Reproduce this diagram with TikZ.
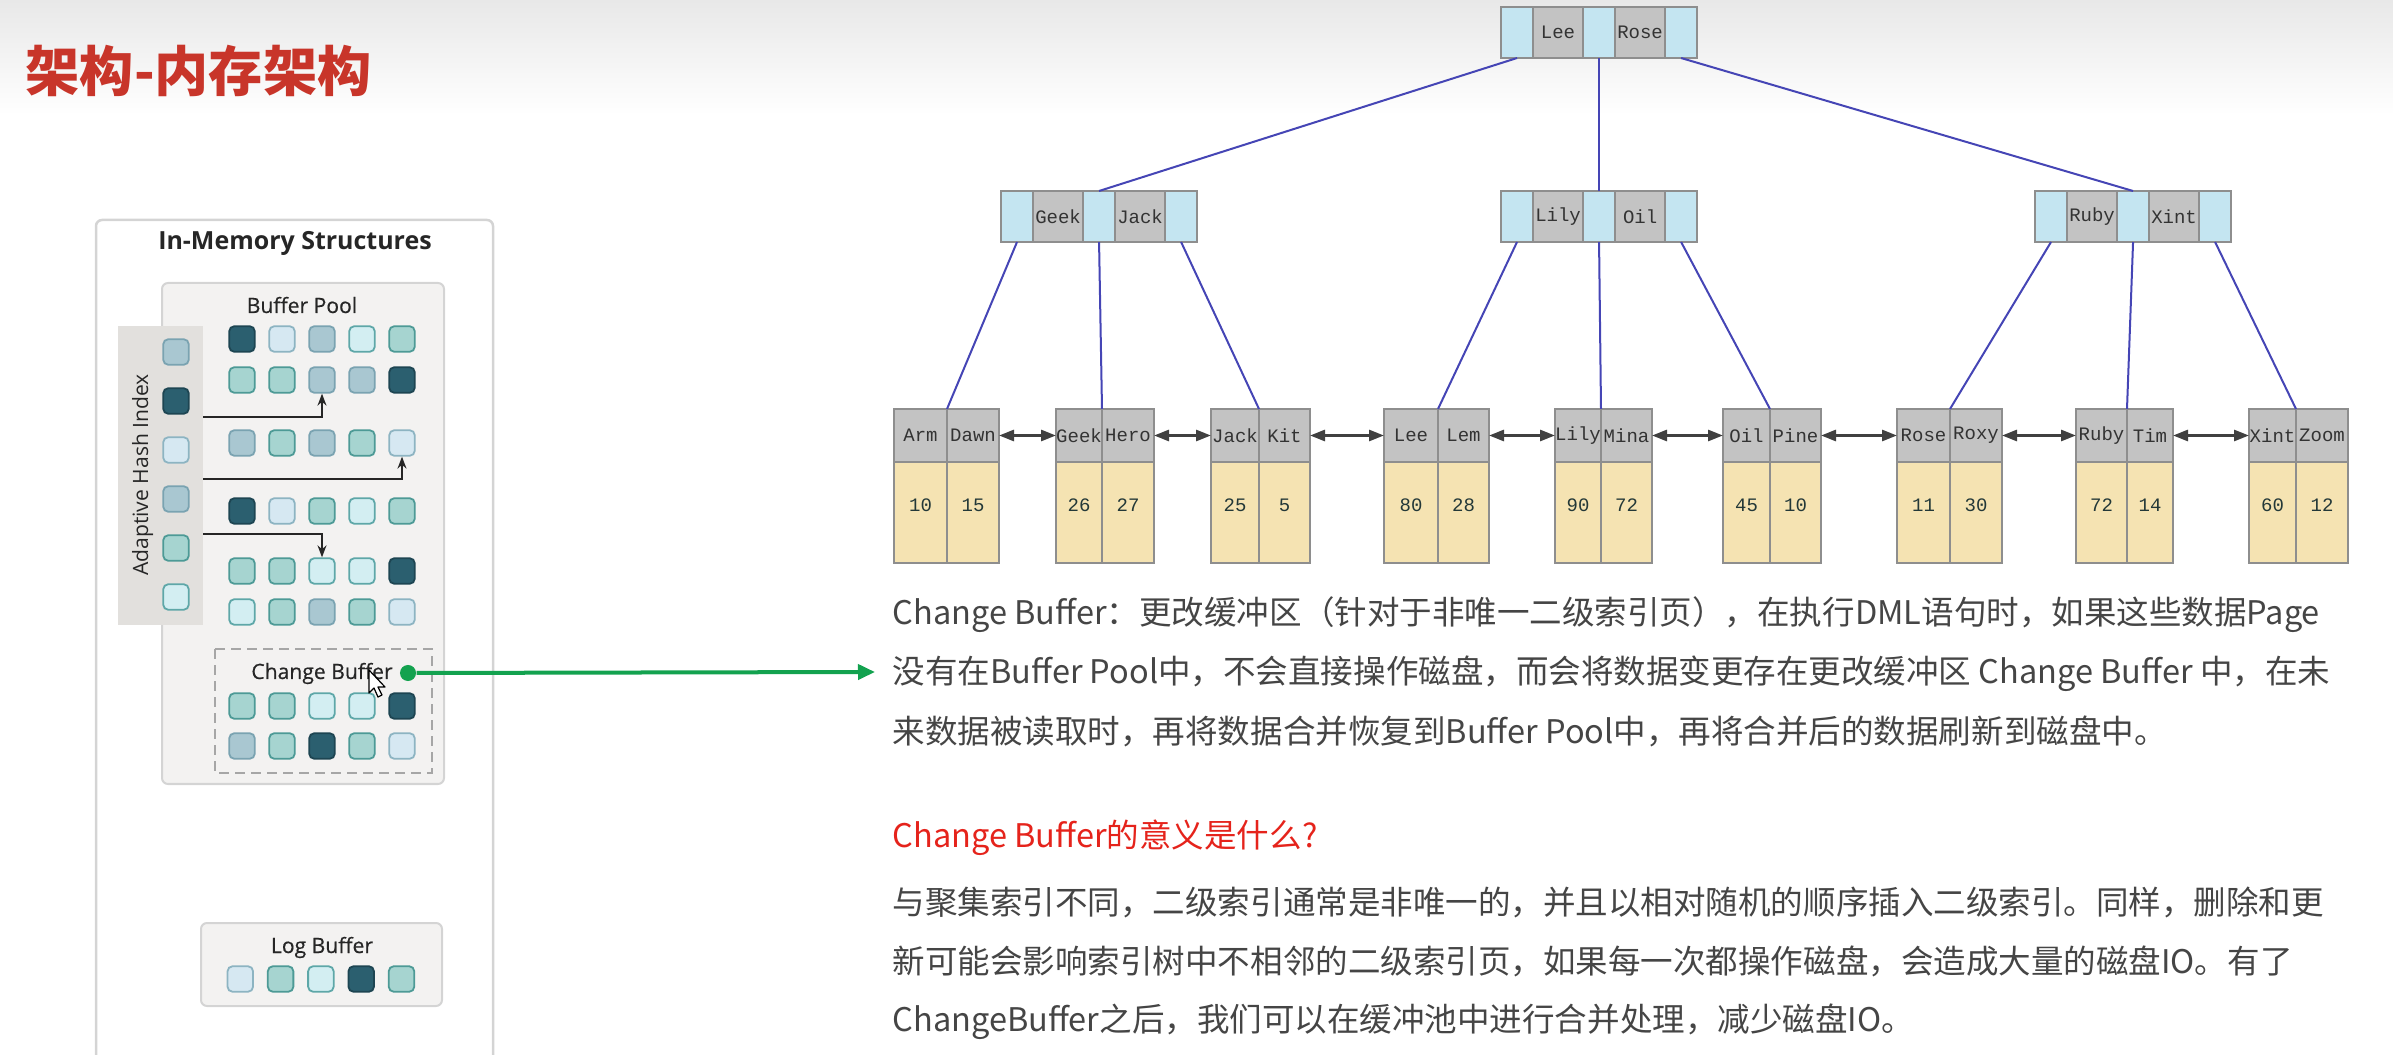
\documentclass[tikz,border=0pt]{standalone}
\usepackage{fontspec}
\setmainfont{Noto Sans CJK SC}
\newfontfamily\orafont{Open Sans}
\newfontfamily\oramedium[FakeBold=0.5]{Open Sans}
\newfontfamily\keyfont{Liberation Mono}
\usetikzlibrary{arrows.meta,positioning}

\definecolor{titlered}{HTML}{C8352A}
\definecolor{textgrey}{HTML}{454545}
\definecolor{headred}{HTML}{E5231B}
\definecolor{ptrblue}{HTML}{C4E5F1}
\definecolor{keygrey}{HTML}{C3C3C3}
\definecolor{valwheat}{HTML}{F5E3B2}
\definecolor{valtext}{HTML}{233838}
\definecolor{cellline}{HTML}{8E8E8E}
\definecolor{edgeblue}{HTML}{4545B5}
\definecolor{linkgrey}{HTML}{404040}
\definecolor{poolfill}{HTML}{F3F2F1}
\definecolor{poolline}{HTML}{D4D4D4}
\definecolor{ahifill}{HTML}{E2E0DD}
\definecolor{cbgreen}{HTML}{13A24F}
\definecolor{sqD}{HTML}{2B5F6F}
\definecolor{sqDline}{HTML}{1D4552}
\definecolor{sqB}{HTML}{A9C7D1}
\definecolor{sqBline}{HTML}{7AA3B1}
\definecolor{sqT}{HTML}{A6D4D0}
\definecolor{sqTline}{HTML}{4D9A96}
\definecolor{sqL}{HTML}{D6E8F2}
\definecolor{sqLline}{HTML}{8DB4C2}
\definecolor{sqV}{HTML}{D3EEF2}
\definecolor{sqVline}{HTML}{5EA7A8}

\tikzset{
	sq/.style={draw=#1line, fill=#1, line width=0.018cm, minimum size=0.255cm, rounded corners=0.05cm, inner sep=0pt},
	boxlabel/.style={font=\oramedium\fontsize{6pt}{7pt}\selectfont, text=black!85, inner sep=0pt, anchor=base},
	ptr/.style={draw=cellline, fill=ptrblue, line width=0.02cm, minimum width=0.32cm, minimum height=0.51cm, inner sep=0pt, outer sep=0pt},
	keyc/.style={draw=cellline, fill=keygrey, line width=0.02cm, minimum width=0.5cm, minimum height=0.51cm, inner sep=0pt, outer sep=0pt, text=black!80, font=\keyfont\fontsize{5.4pt}{6pt}\selectfont},
	valc/.style={draw=cellline, fill=valwheat, line width=0.02cm, minimum height=1.01cm, inner sep=0pt, outer sep=0pt},
	valt/.style={text=valtext, font=\keyfont\fontsize{5.4pt}{6pt}\selectfont, inner sep=0pt},
	bedge/.style={draw=edgeblue, line width=0.02cm},
	leaflink/.style={<->, >={Triangle[length=0.15cm,width=0.11cm]}, draw=linkgrey, line width=0.028cm},
	hasharrow/.style={-{Stealth[length=0.12cm,width=0.09cm]}, line width=0.016cm, draw=black!85},
	cbarrow/.style={-{Triangle[length=0.17cm,width=0.15cm]}, line width=0.04cm, draw=cbgreen},
	para/.style={anchor=base west, inner sep=0pt, text=textgrey, font=\fontsize{9.25pt}{11pt}\selectfont},
}

% inner node: name, left, top, key1, key2
\newcommand{\treenode}[5]{%
	\node[ptr, anchor=north west] (#1-p1) at (#2,#3) {};
	\node[keyc, anchor=north west] (#1-k1) at (#1-p1.north east) {#4};
	\node[ptr, anchor=north west] (#1-p2) at (#1-k1.north east) {};
	\node[keyc, anchor=north west] (#1-k2) at (#1-p2.north east) {#5};
	\node[ptr, anchor=north west] (#1-p3) at (#1-k2.north east) {};
}
% leaf: name, left, middle, right, key1, key2, value1, value2
\newcommand{\leafnode}[8]{%
	\node[keyc, minimum width={(#3-#2)*0.01cm}, minimum height=0.53cm] (#1-k1) at ({(#2+#3)/2},435.5) {#5};
	\node[keyc, minimum width={(#4-#3)*0.01cm}, minimum height=0.53cm] (#1-k2) at ({(#3+#4)/2},435.5) {#6};
	\node[valc, minimum width={(#3-#2)*0.01cm}] (#1-v1) at ({(#2+#3)/2},512.5) {};
	\node[valc, minimum width={(#4-#3)*0.01cm}] (#1-v2) at ({(#3+#4)/2},512.5) {};
	\node[valt] (#1-n1) at ({(#2+#3)/2},505) {#7};
	\node[valt] (#1-n2) at ({(#3+#4)/2},505) {#8};
}

\begin{document}
\begin{tikzpicture}[x=0.01cm, y=-0.01cm]
	\useasboundingbox (0,0) rectangle (2393,1055);
	\shade[top color=black!9, bottom color=white] (0,0) rectangle (2393,115);
	\node[anchor=base west, inner sep=0pt, text=titlered, font=\bfseries\fontsize{15.4pt}{17pt}\selectfont] (title) at (25,92) {架构-内存架构};

	% in-memory structures
	\draw[draw=poolline, line width=0.025cm, rounded corners=0.06cm] (96,1070) -- (96,220) -- (493,220) -- (493,1070);
	\node[boxlabel, font=\orafont\bfseries\fontsize{7.1pt}{8pt}\selectfont] (mem) at (295,250) {In-Memory Structures};
	\draw[fill=poolfill, draw=poolline, line width=0.02cm, rounded corners=0.06cm] (162,283) rectangle (444,784);
	\node[boxlabel] (pool) at (302,313) {Buffer Pool};
	\node[fill=ahifill, minimum width=0.85cm, minimum height=2.99cm, inner sep=0pt, outer sep=0pt] (ahi) at (160.5,475.5) {};
	\node[boxlabel, font=\orafont\fontsize{6pt}{7pt}\selectfont, rotate=90] (ahitext) at (148,475) {Adaptive Hash Index};
	\foreach \c [count=\i] in {sqB,sqD,sqL,sqB,sqT,sqV}
		\node[sq=\c] (ah\i) at (176,{303+49*\i}) {};
	\foreach \y/\cols [count=\r] in {339/{sqD,sqL,sqB,sqV,sqT}, 380/{sqT,sqT,sqB,sqB,sqD}, 443/{sqB,sqT,sqB,sqT,sqL}, 511/{sqD,sqL,sqT,sqV,sqT}, 571/{sqT,sqT,sqV,sqV,sqD}, 612/{sqV,sqT,sqB,sqT,sqL}}
		\foreach \c [count=\i] in \cols
			\node[sq=\c] (bp\r\i) at ({202+40*\i},\y) {};
	\coordinate (h1) at (203,417);
	\coordinate (h2) at (203,479);
	\coordinate (h3) at (203,534);
	\draw[hasharrow] (h1) -| (bp23.south);
	\draw[hasharrow] (h2) -| (bp35.south);
	\draw[hasharrow] (h3) -| (bp53.north);

	\draw[draw=black!35, line width=0.018cm, dash pattern=on 0.1cm off 0.06cm] (215,649) rectangle (432,773);
	\node[boxlabel] (cb) at (322,679) {Change Buffer};
	\foreach \y/\cols [count=\r] in {706/{sqT,sqT,sqV,sqV,sqD}, 746/{sqB,sqT,sqD,sqT,sqL}}
		\foreach \c [count=\i] in \cols
			\node[sq=\c] (cb\r\i) at ({202+40*\i},\y) {};
	\node[circle, fill=cbgreen, minimum size=0.16cm, inner sep=0pt] (cbdot) at (408,673) {};
	\coordinate (cbtip) at (875,672);
	\draw[cbarrow] (cbdot) -- (cbtip);
	\filldraw[fill=white, draw=black, line width=0.012cm, line join=round] (369,670) -- (369,693) -- (374,688) -- (378,697) -- (382,695) -- (378,687) -- (385,687) -- cycle;

	\draw[fill=poolfill, draw=poolline, line width=0.02cm, rounded corners=0.06cm] (201,923) rectangle (442,1006);
	\node[boxlabel] (log) at (322,953) {Log Buffer};
	\foreach \c [count=\i] in {sqL,sqT,sqV,sqD,sqT}
		\node[sq=\c] (lb\i) at ({200+40.3*\i},979) {};

	% b+ tree
	\treenode{root}{1501}{7}{Lee}{Rose}
	\treenode{gj}{1001}{191}{Geek}{Jack}
	\treenode{lo}{1501}{191}{Lily}{Oil}
	\treenode{rx}{2035}{191}{Ruby}{Xint}
	\leafnode{l1}{894}{947}{999}{Arm}{Dawn}{10}{15}
	\leafnode{l2}{1056}{1102}{1154}{Geek}{Hero}{26}{27}
	\leafnode{l3}{1211}{1259}{1310}{Jack}{Kit}{25}{5}
	\leafnode{l4}{1384}{1438}{1489}{Lee}{Lem}{80}{28}
	\leafnode{l5}{1555}{1601}{1652}{Lily}{Mina}{90}{72}
	\leafnode{l6}{1723}{1770}{1821}{Oil}{Pine}{45}{10}
	\leafnode{l7}{1897}{1950}{2002}{Rose}{Roxy}{11}{30}
	\leafnode{l8}{2076}{2127}{2173}{Ruby}{Tim}{72}{14}
	\leafnode{l9}{2249}{2296}{2348}{Xint}{Zoom}{60}{12}
	\draw[bedge] (root-p1.south) -- (gj-p2.north);
	\draw[bedge] (root-p2.south) -- (lo-p2.north);
	\draw[bedge] (root-p3.south) -- (rx-p2.north);
	\draw[bedge] (gj-p1.south) -- (l1-k1.north east);
	\draw[bedge] (gj-p2.south) -- (l2-k1.north east);
	\draw[bedge] (gj-p3.south) -- (l3-k1.north east);
	\draw[bedge] (lo-p1.south) -- (l4-k1.north east);
	\draw[bedge] (lo-p2.south) -- (l5-k1.north east);
	\draw[bedge] (lo-p3.south) -- (l6-k1.north east);
	\draw[bedge] (rx-p1.south) -- (l7-k1.north east);
	\draw[bedge] (rx-p2.south) -- (l8-k1.north east);
	\draw[bedge] (rx-p3.south) -- (l9-k1.north east);
	\foreach \a/\b in {l1/l2,l2/l3,l3/l4,l4/l5,l5/l6,l6/l7,l7/l8,l8/l9}
		\draw[leaflink] (\a-k2.east) -- (\b-k1.west);

	% text
	\node[para] (desc1) at (892,625) {Change Buffer：更改缓冲区（针对于非唯一二级索引页），在执行DML语句时，如果这些数据Page};
	\node[para] (desc2) at (892,684) {没有在Buffer Pool中，不会直接操作磁盘，而会将数据变更存在更改缓冲区 Change Buffer 中，在未};
	\node[para] (desc3) at (892,743) {来数据被读取时，再将数据合并恢复到Buffer Pool中，再将合并后的数据刷新到磁盘中。};
	\node[para, text=headred] (meaning) at (892,847) {Change Buffer的意义是什么?};
	\node[para] (why1) at (892,914) {与聚集索引不同，二级索引通常是非唯一的，并且以相对随机的顺序插入二级索引。同样，删除和更};
	\node[para] (why2) at (892,973) {新可能会影响索引树中不相邻的二级索引页，如果每一次都操作磁盘，会造成大量的磁盘IO。有了};
	\node[para] (why3) at (892,1031) {ChangeBuffer之后，我们可以在缓冲池中进行合并处理，减少磁盘IO。};
\end{tikzpicture}
\end{document}
